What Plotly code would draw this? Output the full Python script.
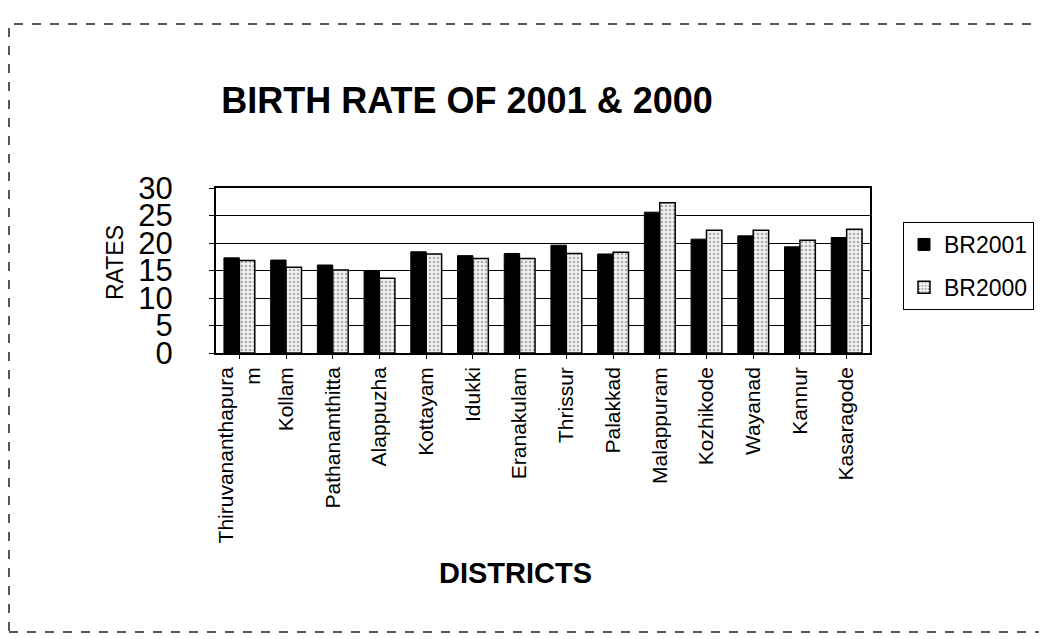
import plotly.graph_objects as go

districts = ["Thiruvananthapura<br>m", "Kollam", "Pathanamthitta", "Alappuzha", "Kottayam",
             "Idukki", "Eranakulam", "Thrissur", "Palakkad", "Malappuram",
             "Kozhikode", "Wayanad", "Kannur", "Kasaragode"]
br2001 = [17.3, 16.9, 16.0, 15.0, 18.4, 17.7, 18.1, 19.6, 18.0, 25.6, 20.7, 21.3, 19.3, 21.0]
br2000 = [16.8, 15.6, 15.1, 13.6, 18.0, 17.2, 17.2, 18.1, 18.3, 27.3, 22.3, 22.3, 20.5, 22.5]
y_ticks = [0, 5, 10, 15, 20, 25, 30]

FONT = "Arial, 'Liberation Sans', sans-serif"
OFF = 8  # page body margin
W, H = 1047 - OFF, 639 - OFF
L, T = 216 - OFF, 188 - OFF
R, B = 1047 - 870, 639 - 353
pw, ph = W - L - R, H - T - B

def px(x):
    # window x pixel -> paper
    return (x - OFF - L) / pw

def py(y):
    # window y pixel -> paper
    return (H - B - (y - OFF)) / ph

fig = go.Figure()
fig.add_trace(go.Bar(
    x=districts, y=br2001, name="BR2001", legendgroup="a",
    marker=dict(color="black", line=dict(color="black", width=1)),
))
fig.add_trace(go.Bar(
    x=districts, y=br2000, name="BR2000", legendgroup="b",
    marker=dict(color="white", line=dict(color="black", width=1.5),
                pattern=dict(shape=".", fgcolor="#666666", bgcolor="#f2f2f2",
                             size=4, solidity=0.35)),
))

fig.update_layout(
    width=W, height=H,
    margin=dict(l=L, r=R, t=T, b=B),
    paper_bgcolor="white", plot_bgcolor="white",
    font=dict(family=FONT, color="black"),
    barmode="group", bargap=0.34, bargroupgap=0.0,
    title=dict(text="<b>BIRTH RATE OF 2001 & 2000</b>", font=dict(size=36, family=FONT),
               x=(467 - OFF) / W, xanchor="center", y=1 - (100 - OFF) / H, yanchor="middle"),
    legend=dict(x=px(903), xanchor="left", y=py(222), yanchor="top",
                bordercolor="black", borderwidth=1, bgcolor="white",
                font=dict(size=23, family=FONT), tracegroupgap=10),
    showlegend=True,
    xaxis=dict(
        tickangle=-90, tickfont=dict(size=21, family=FONT),
        showline=True, linecolor="black", linewidth=1.5, mirror=True,
        ticks="outside", ticklen=4, tickcolor="black",
        showgrid=False,
    ),
    yaxis=dict(
        range=[0, 30], tickmode="array", tickvals=y_ticks,
        tickfont=dict(size=31, family=FONT),
        showline=True, linecolor="black", linewidth=2, mirror=True,
        ticks="outside", ticklen=5, tickcolor="black", ticklabelstandoff=30,
        showgrid=True, gridcolor="black", gridwidth=1,
        zeroline=False,
    ),
)

fig.add_annotation(text="<b>DISTRICTS</b>", x=px(515), y=py(573), xref="paper", yref="paper",
                   showarrow=False, font=dict(size=29, family=FONT), xanchor="center", yanchor="middle")
fig.add_annotation(text="RATES", x=px(115), y=py(263), xref="paper", yref="paper",
                   showarrow=False, font=dict(size=23, family=FONT), textangle=-90,
                   xanchor="center", yanchor="middle")

fig.add_shape(type="rect", xref="paper", yref="paper",
              x0=px(OFF + 1), x1=px(1044), y0=py(632), y1=py(24),
              line=dict(color="#222222", width=1.5, dash="dash"), layer="below")

fig.write_html("out.html")
